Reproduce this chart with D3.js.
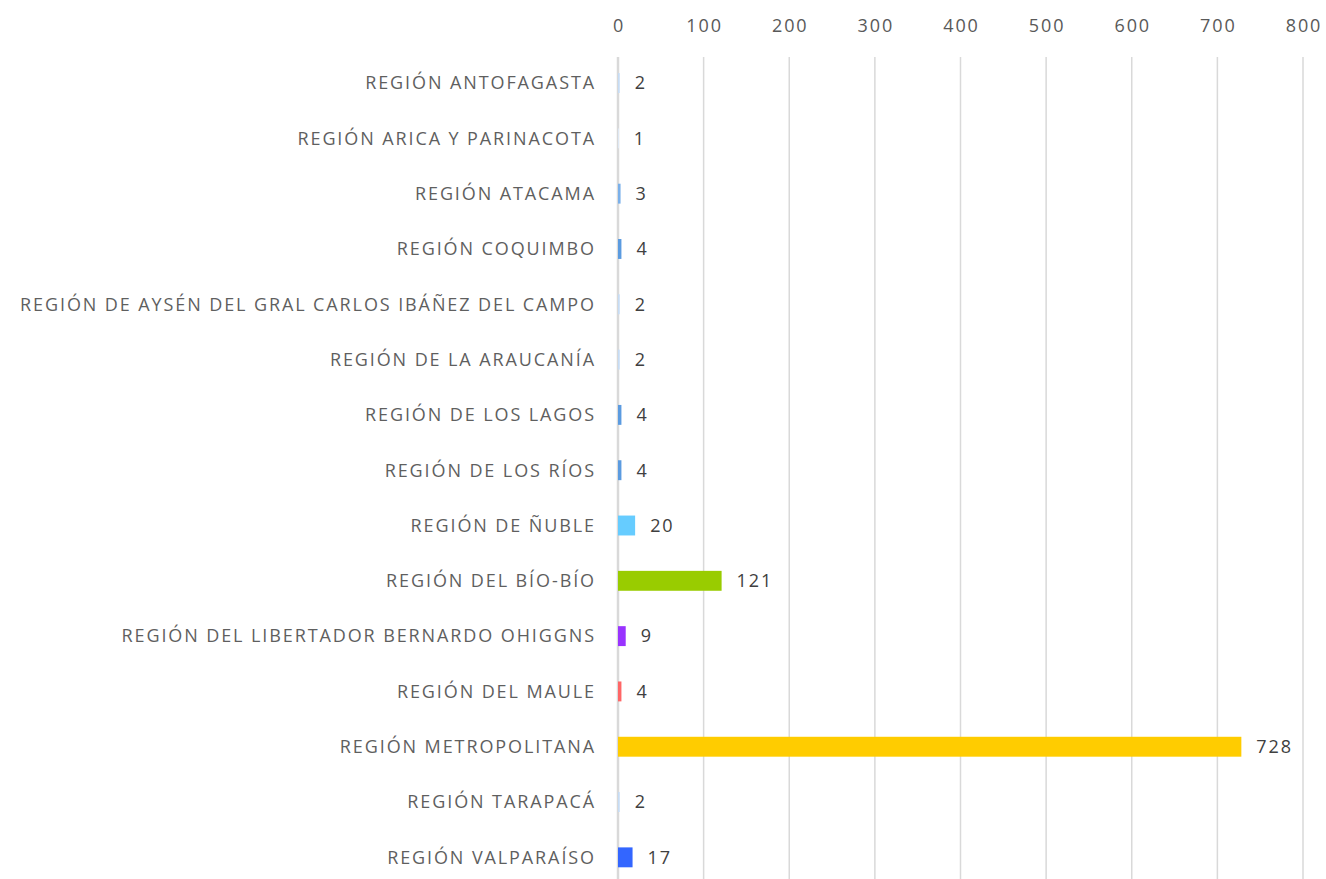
<!DOCTYPE html>
<html><head><meta charset="utf-8">
<script src="https://cdn.jsdelivr.net/npm/d3@7"></script>
<style>body{margin:0;background:#fff;} text{font-family:"Open Sans","Noto Sans",sans-serif;letter-spacing:1.9px;font-weight:400;}</style>
</head><body>
<svg id="c" width="1326" height="879"></svg>
<script>
const categories = ["REGIÓN ANTOFAGASTA","REGIÓN ARICA Y PARINACOTA","REGIÓN ATACAMA","REGIÓN COQUIMBO","REGIÓN DE AYSÉN DEL GRAL CARLOS IBÁÑEZ DEL CAMPO","REGIÓN DE LA ARAUCANÍA","REGIÓN DE LOS LAGOS","REGIÓN DE LOS RÍOS","REGIÓN DE ÑUBLE","REGIÓN DEL BÍO-BÍO","REGIÓN DEL LIBERTADOR BERNARDO OHIGGNS","REGIÓN DEL MAULE","REGIÓN METROPOLITANA","REGIÓN TARAPACÁ","REGIÓN VALPARAÍSO"];
const values = [2,1,3,4,2,2,4,4,20,121,9,4,728,2,17];
const colors = ["#c6dcf5","#dfeaf8","#7ab0ea","#5b9be0","#c6dcf5","#c6dcf5","#5b9be0","#5b9be0","#66ccff","#99cc00","#9933ff","#ff6666","#ffcc00","#c6dcf5","#3366ff"];
const ticks = [0,100,200,300,400,500,600,700,800];

const svg = d3.select("#c");
const x = d3.scaleLinear().domain([0,800]).range([618,1303]);
const y = d3.scaleBand().domain(categories).range([55.4,885]).paddingInner(0.64).paddingOuter(0.32);

const g = svg.append("g");
g.selectAll("line.grid").data(ticks).join("line")
  .attr("x1",d=>x(d)).attr("x2",d=>x(d)).attr("y1",57).attr("y2",879)
  .attr("stroke","#d9d9d9").attr("stroke-width",d=>d===0?2.5:1.5);
g.selectAll("text.tick").data(ticks).join("text")
  .attr("x",d=>x(d)+1).attr("y",32).attr("text-anchor","middle")
  .attr("fill","#595959").attr("font-size",18).text(d=>d);

g.selectAll("rect.bar").data(values).join("rect")
  .attr("x",x(0)).attr("y",(d,i)=>y(categories[i]))
  .attr("width",d=>x(d)-x(0)).attr("height",y.bandwidth())
  .attr("fill",(d,i)=>colors[i]);

g.selectAll("text.cat").data(categories).join("text")
  .attr("x",596).attr("y",d=>y(d)+y.bandwidth()/2).attr("dy","0.35em")
  .attr("text-anchor","end").attr("fill","#5f5f5f").attr("font-size",18).text(d=>d);

g.selectAll("text.val").data(values).join("text")
  .attr("x",d=>x(d)+15).attr("y",(d,i)=>y(categories[i])+y.bandwidth()/2).attr("dy","0.35em")
  .attr("fill","#404040").attr("font-size",18).text(d=>d);
</script>
</body></html>
